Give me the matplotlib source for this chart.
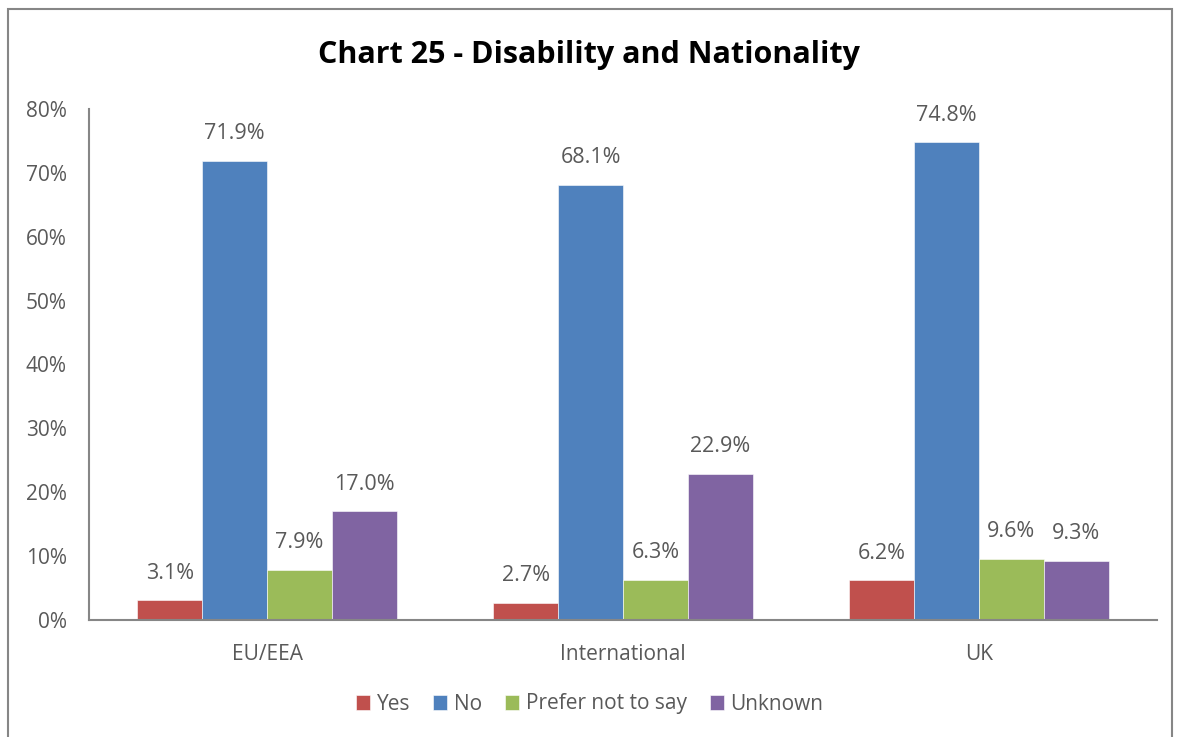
import matplotlib.pyplot as plt
import numpy as np
from matplotlib.patches import Rectangle

# chart values
groups = ['EU/EEA', 'International', 'UK']
series = ['Yes', 'No', 'Prefer not to say', 'Unknown']
yes = [3.1, 2.7, 6.2]
no = [71.9, 68.1, 74.8]
prefer_not = [7.9, 6.3, 9.6]
unknown = [17.0, 22.9, 9.3]
colors = ['#C0504D', '#4F81BD', '#9BBB59', '#8064A2']

plt.rcParams['font.family'] = ['Open Sans', 'DejaVu Sans']
grey = '#595959'

fig = plt.figure(figsize=(11.79, 7.37), dpi=100)
ax = fig.add_axes([89 / 1179, 117 / 737, (1157 - 89) / 1179, (620 - 109) / 737])

x = np.arange(len(groups))
width = 0.182
for i, (name, vals) in enumerate(zip(series, [yes, no, prefer_not, unknown])):
    pos = x + (i - 1.5) * width
    bars = ax.bar(pos, vals, width, color=colors[i], label=name,
                  edgecolor='white', linewidth=0.4)
    for b, v in zip(bars, vals):
        ax.text(b.get_x() + b.get_width() / 2, v + 2.6, f'{v:.1f}%',
                ha='center', va='bottom', fontsize=15.5, color=grey)

ax.set_xlim(-0.5, 2.5)
ax.set_ylim(0, 80)
ax.set_yticks(range(0, 81, 10))
ax.set_yticklabels([f'{t}%' for t in range(0, 81, 10)])
ax.set_xticks(x)
ax.set_xticklabels(groups)
ax.tick_params(length=0, labelsize=15, colors=grey)
ax.tick_params(axis='y', pad=16)
ax.tick_params(axis='x', pad=17)
for s in ['top', 'right']:
    ax.spines[s].set_visible(False)
for s in ['left', 'bottom']:
    ax.spines[s].set_color('#868686')
    ax.spines[s].set_linewidth(1.5)

fig.text(0.5, 1 - 55 / 737, 'Chart 25 - Disability and Nationality',
         ha='center', va='center', fontsize=22, fontweight='bold')

fig.legend(loc='center', bbox_to_anchor=(0.5, 1 - 704 / 737), ncol=4,
           frameon=False, fontsize=15, handlelength=0.7, handleheight=0.7,
           handletextpad=0.3, columnspacing=1.1, labelcolor=grey)

fig.add_artist(Rectangle((8 / 1179, -0.05), (1172 - 8) / 1179, 1.05 - 9 / 737,
                         transform=fig.transFigure, fill=False,
                         edgecolor='#868686', linewidth=1.5))

fig.savefig('out.png', dpi=100)
